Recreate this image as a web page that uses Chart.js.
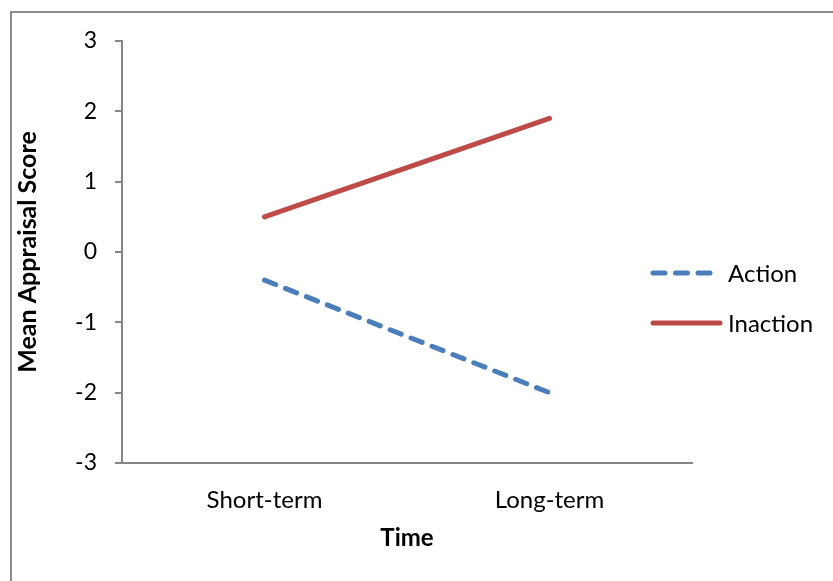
<!DOCTYPE html>
<html>
<head>
<meta charset="utf-8">
<script src="https://cdn.jsdelivr.net/npm/chart.js@4"></script>
<style>
  html, body { margin: 0; padding: 0; background: #fff; }
  #wrap { width: 833px; height: 581px; }
</style>
</head>
<body>
<div id="wrap"><canvas id="chart" width="833" height="581"></canvas></div>
<script>
const categories = ["Short-term", "Long-term"];
const actionScores = [-0.4, -2.0];
const inactionScores = [0.5, 1.9];
const yTicks = [-3, -2, -1, 0, 1, 2, 3];

const FONT = "Lato, 'Open Sans', sans-serif";
const AXIS_GREY = "#868686";

// frame around the chart plus a hand-placed legend (Excel style)
const decorations = {
  id: "decorations",
  beforeDraw(chart) {
    const ctx = chart.ctx;
    ctx.save();
    ctx.strokeStyle = "#8a8a8a";
    ctx.lineWidth = 2;
    ctx.beginPath();
    ctx.moveTo(11, 581);
    ctx.lineTo(11, 12);
    ctx.lineTo(833, 12);
    ctx.stroke();
    ctx.restore();
  },
  afterDraw(chart) {
    const ctx = chart.ctx;
    const rows = [273, 323];
    ctx.save();
    chart.data.datasets.forEach((ds, i) => {
      const y = rows[i];
      ctx.strokeStyle = ds.borderColor;
      ctx.lineWidth = ds.borderWidth;
      ctx.lineCap = "round";
      ctx.setLineDash(ds.borderDash || []);
      ctx.beginPath();
      ctx.moveTo(653, y);
      ctx.lineTo(i === 0 ? 712 : 720, y);
      ctx.stroke();
      ctx.setLineDash([]);
      ctx.fillStyle = "#000";
      ctx.font = "24px " + FONT;
      ctx.textBaseline = "middle";
      ctx.textAlign = "left";
      ctx.fillText(ds.label, 728, y + 1);
    });
    ctx.restore();
  }
};

new Chart(document.getElementById("chart"), {
  type: "line",
  data: {
    labels: categories,
    datasets: [
      {
        label: "Action",
        data: actionScores,
        borderColor: "#4a7ebb",
        borderWidth: 5,
        borderDash: [12, 10.5],
        borderCapStyle: "round",
        pointRadius: 0,
        tension: 0,
        fill: false
      },
      {
        label: "Inaction",
        data: inactionScores,
        borderColor: "#be4b48",
        borderWidth: 5,
        borderCapStyle: "round",
        pointRadius: 0,
        tension: 0,
        fill: false
      }
    ]
  },
  options: {
    responsive: false,
    animation: false,
    layout: { padding: { left: 12, right: 141, top: 41, bottom: 0 } },
    plugins: {
      legend: { display: false },
      tooltip: { enabled: false }
    },
    scales: {
      x: {
        offset: true,
        grid: { display: false },
        border: { display: true, color: AXIS_GREY, width: 2 },
        ticks: { color: "#000", font: { family: FONT, size: 24 }, padding: 15 },
        title: {
          display: true,
          text: "Time",
          color: "#000",
          font: { family: FONT, size: 24, weight: "bold" },
          padding: { top: 0, bottom: 28 }
        },
        afterFit(scale) { scale.height = 118; }
      },
      y: {
        min: -3,
        max: 3,
        afterBuildTicks(scale) { scale.ticks = yTicks.map(v => ({ value: v })); },
        grid: {
          display: true,
          drawOnChartArea: false,
          drawTicks: true,
          tickLength: 7,
          color: AXIS_GREY,
          lineWidth: 2
        },
        border: { display: true, color: AXIS_GREY, width: 2 },
        ticks: { color: "#000", font: { family: FONT, size: 23 }, padding: 18 },
        title: {
          display: true,
          text: "Mean Appraisal Score",
          color: "#000",
          font: { family: FONT, size: 25, weight: "bold" },
          padding: { top: 1, bottom: 1 }
        },
        afterFit(scale) { scale.width = 110; }
      }
    }
  },
  plugins: [decorations]
});
</script>
</body>
</html>
